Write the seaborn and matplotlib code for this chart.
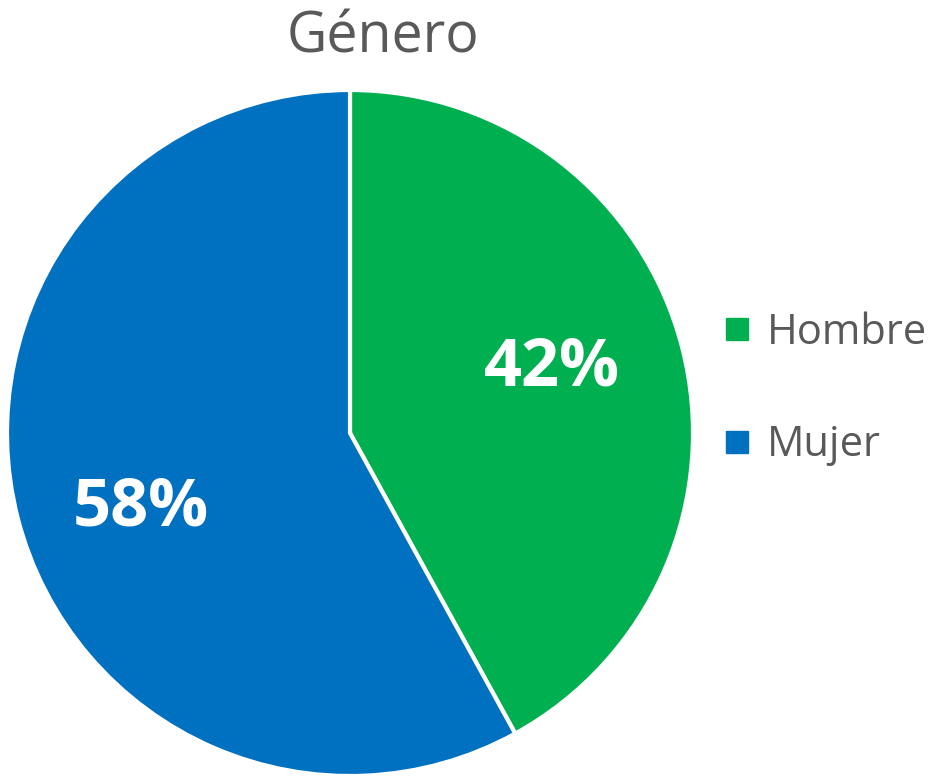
import matplotlib
matplotlib.use("Agg")
import matplotlib.pyplot as plt
from matplotlib.lines import Line2D
import seaborn as sns

# Chart data
labels = ['Hombre', 'Mujer']
shares = [42, 58]
colors = ['#00B050', '#0070C0']

sns.set_theme(style="white")
plt.rcParams['font.family'] = ['Open Sans', 'DejaVu Sans']

fig = plt.figure(figsize=(9.44, 7.8), dpi=100)
# pie centre at (350, 433) px, radius ~343 px
ax = fig.add_axes([7 / 944, 4 / 780, 686 / 944, 686 / 780])

wedges, texts, autotexts = ax.pie(
    shares, colors=colors, startangle=90, counterclock=False,
    autopct='%1.0f%%', pctdistance=0.64,
    wedgeprops=dict(edgecolor='white', linewidth=3),
    textprops=dict(color='white', fontsize=48, fontweight='bold'),
)
# nudge the labels to where Excel put them
autotexts[0].set_position((0.59, 0.19))
autotexts[1].set_position((-0.61, -0.22))
ax.set_xlim(-1, 1)
ax.set_ylim(-1, 1)
ax.set_aspect('equal')
ax.axis('off')

fig.text(383 / 944, 1 - 38 / 780, 'Género', ha='center', va='center',
         fontsize=40, color='#595959')

handles = [Line2D([], [], marker='s', linestyle='', markersize=16,
                  markerfacecolor=c, markeredgecolor=c) for c in colors]
fig.legend(handles, labels, loc='center left', frameon=False,
           bbox_to_anchor=(679 / 944, 1 - 389 / 780), fontsize=30,
           labelcolor='#595959', handlelength=1.0, handletextpad=0.2,
           labelspacing=1.7)

fig.savefig('out.png', dpi=100)
